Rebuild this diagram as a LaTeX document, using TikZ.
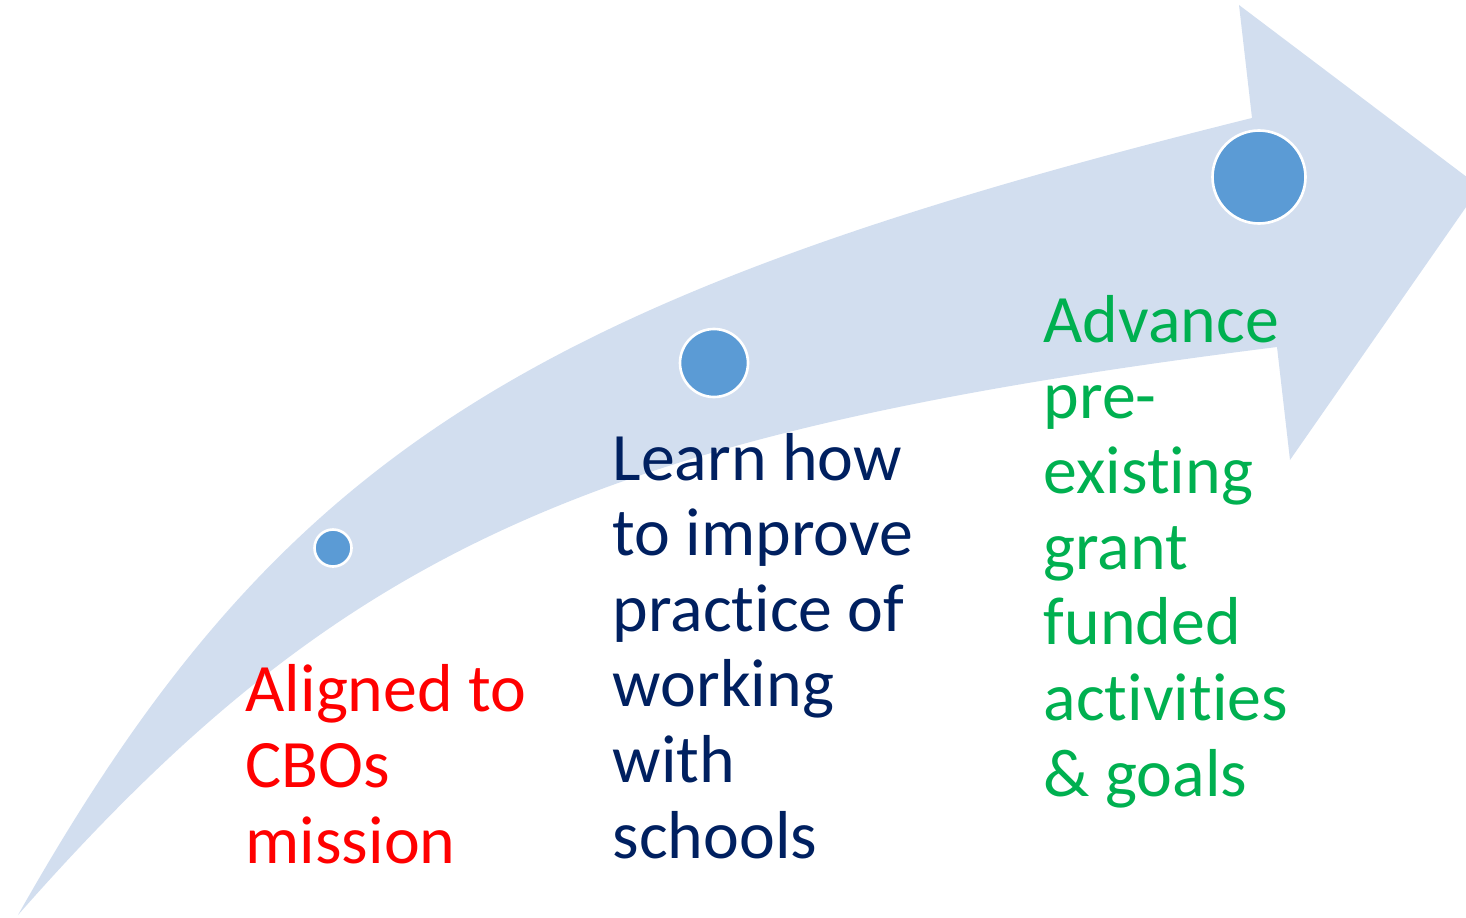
\documentclass[tikz,border=0pt]{standalone}
\usepackage{fontspec}
\setmainfont{Carlito}[Ligatures=NoCommon]
\usepackage{tikz}
\usepackage{xcolor}
\usetikzlibrary{positioning}
\definecolor{Band}{HTML}{D2DEEF}
\definecolor{Dot}{HTML}{5B9BD5}
\definecolor{Red}{HTML}{FF0000}
\definecolor{Navy}{HTML}{002060}
\definecolor{Green}{HTML}{00B050}

\begin{document}
\begin{tikzpicture}[
  dot/.style={circle,fill=Dot,draw=white,line width=0.75pt,inner sep=0pt},
  stage/.style={anchor=base west,align=left,inner sep=0pt,
    font=\fontsize{19.3}{21.5}\selectfont}]
  \useasboundingbox (0,0) rectangle (14.66,9.17);

  % curved band with the arrow head
  \fill[Band] (0.18,0.02) .. controls (2.76,4.59) and (5.22,6.18) .. (12.52,7.99)
    -- (12.39,9.12) -- (14.80,7.30) -- (12.90,4.57) -- (12.77,5.70)
    .. controls (5.94,4.84) and (3.42,3.70) .. cycle;

  \node[dot,minimum size=0.37cm] (p1) at (3.33,3.69) {};
  \node[dot,minimum size=0.68cm] (p2) at (7.14,5.54) {};
  \node[dot,minimum size=0.93cm] (p3) at (12.59,7.40) {};

  % base anchor sits on the last line
  \node[stage,text=Red] (t1) at (2.45,0.54) {Aligned to\\CBOs\\mission};
  \node[stage,text=Navy] (t2) at (6.12,0.59)
    {Learn how\\to improve\\practice of\\working\\with\\schools};
  \node[stage,text=Green] (t3) at (10.43,1.21)
    {Advance\\pre-\\existing\\grant\\funded\\activities\\\& goals};
\end{tikzpicture}
\end{document}
